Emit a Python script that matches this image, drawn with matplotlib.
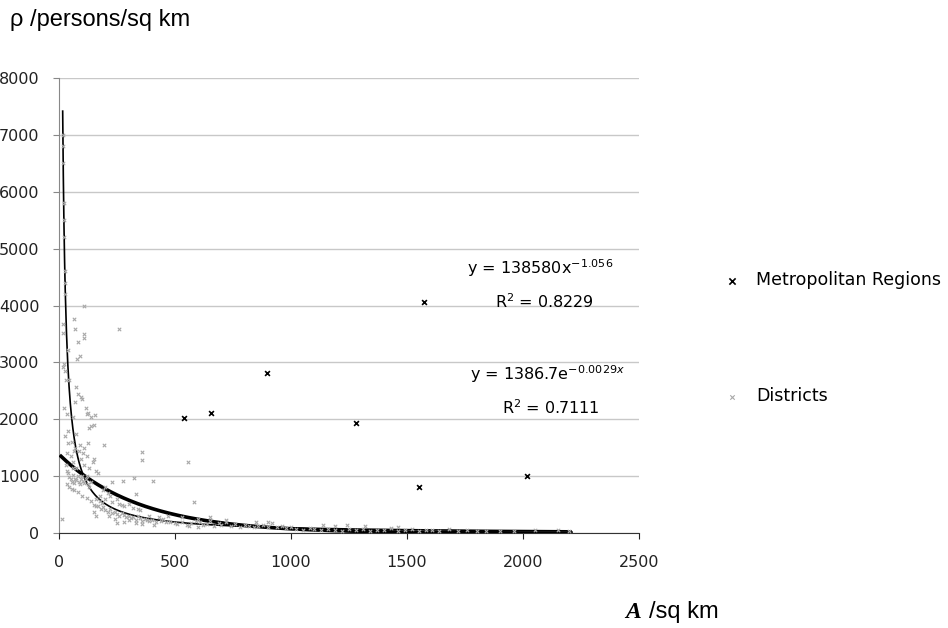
import numpy as np
import matplotlib
matplotlib.use('Agg')
from matplotlib import pyplot as plt

# Metropolitan regions (area sq km, density persons/sq km)
metro_area = [540, 655, 895, 1280, 1573, 1552, 2017]
metro_density = [2020, 2110, 2810, 1935, 4060, 810, 1000]

# Districts (area sq km, density persons/sq km)
district_area = [
    16, 17, 18, 20, 21, 22, 25, 26, 28,
    108, 65, 259, 17, 69, 108, 108, 17, 82, 39, 91, 78, 17, 20, 25, 30, 45, 72, 80, 95,
    70, 100, 115, 20, 35, 60, 120, 140, 150, 130, 40, 75, 25, 55, 90, 110, 194, 65, 120,
    35, 150, 60, 357, 357, 555, 405, 276, 323, 580, 160, 168, 126, 155, 138, 39, 125, 13,
    30, 35, 40, 45, 50, 55, 60, 65, 70, 75, 80, 85, 90, 95, 100, 105, 110, 115, 120, 125,
    130, 140, 45, 55, 65, 80, 35, 50, 70, 85, 95, 110, 105, 75, 60, 130, 145, 100, 120,
    140, 150, 160, 170, 160, 175,
    180, 190, 200, 210, 220, 230, 240, 250, 260, 270, 280, 290, 300, 310, 320, 330, 340,
    350, 360, 370, 380, 390, 400, 420, 440, 460, 480, 500, 200, 210, 220, 230, 250, 260,
    270, 280, 300, 320, 330, 340, 350, 250, 280, 300, 330, 360, 390, 410, 430, 450, 470,
    200, 230, 190, 175, 185, 215, 240, 150, 160,
    510, 530, 550, 570, 590, 600, 610, 620, 640, 650, 670, 690, 700, 720, 740, 760, 780,
    800, 820, 840, 860, 880, 900, 920, 940, 960, 980, 1000, 530, 560, 600, 650, 720, 850, 900,
    1020, 1050, 1080, 1100, 1130, 1160, 1190, 1220, 1250, 1280, 1310, 1340, 1370, 1400,
    1430, 1460, 1490, 1520, 1550, 1580, 1610, 1640, 1680, 1720, 1760, 1800, 1840, 1900,
    1960, 2050, 2150, 2200, 1140, 1190, 1240, 1320, 1460,
]
district_density = [
    7000, 6800, 6500, 5800, 5500, 5200, 4600, 4400, 4200,
    3990, 3760, 3585, 3670, 3585, 3500, 3430, 3510, 3360, 3220, 3110, 3060, 2920, 2980, 2850, 2700, 2690, 2560, 2450, 2400,
    2300, 2350, 2200, 2200, 2100, 2050, 2100, 2050, 1900, 1850, 1800, 1750, 1700, 1600, 1550, 1500, 1550, 1450, 1350,
    1400, 1300, 1250, 1420, 1280, 1250, 910, 910, 970, 540, 1100, 1050, 2110, 2070, 1880, 1580, 1580, 250,
    1200, 1100, 1050, 980, 950, 900, 1020, 880, 960, 930, 1000, 900, 870, 950, 1000, 920, 880, 950, 1000, 870,
    820, 900, 820, 780, 750, 720, 860, 1350, 1500, 1450, 1300, 1200, 1400, 1150, 1150, 1150, 1250, 650, 620,
    560, 500, 480, 470, 600, 560,
    420, 460, 400, 380, 420, 350, 380, 330, 300, 360, 320, 280, 300, 260, 280, 240, 300,
    260, 220, 250, 230, 210, 240, 200, 220, 190, 200, 180, 600, 700, 650, 550, 600, 520,
    500, 480, 520, 450, 680, 420, 400, 180, 200, 240, 180, 160, 300, 150, 280, 250, 300,
    820, 900, 750, 650, 530, 300, 250, 380, 300,
    160, 200, 150, 180, 220, 250, 190, 140, 160, 210, 120, 170, 140, 190, 130, 160, 110,
    150, 120, 100, 130, 150, 110, 170, 100, 120, 90, 110, 280, 120, 110, 280, 230, 190, 200,
    80, 60, 90, 70, 50, 80, 60, 40, 70, 50, 80, 40, 60, 50,
    90, 40, 60, 70, 40, 50, 60, 40, 80, 40, 50, 30, 40, 30,
    40, 50, 60, 40, 140, 130, 140, 120, 100,
]

# trendlines as given in the chart
pow_a, pow_b = 138580, -1.056
exp_a, exp_b = 1386.7, -0.0029
pow_range = [16, 2207]
exp_range = [9, 2207]

fig = plt.figure(figsize=(9.48, 6.28), dpi=100)
ax = fig.add_axes([0.0622, 0.151, 0.6118, 0.725])

ax.set_xlim(0, 2500)
ax.set_ylim(0, 8000)
ax.set_xticks(range(0, 2501, 500))
ax.set_yticks(range(0, 8001, 1000))
ax.yaxis.grid(True, color='#c8c8c8', linewidth=1.0)
ax.set_axisbelow(True)
for s in ['top', 'right']:
    ax.spines[s].set_visible(False)
ax.spines['left'].set_color('#888888')
ax.spines['bottom'].set_color('#333333')
ax.tick_params(axis='both', direction='out', length=4, labelsize=11.5,
               colors='#222222')
ax.tick_params(axis='y', color='#888888', pad=10)
ax.tick_params(axis='x', pad=12)

xp = np.linspace(pow_range[0], pow_range[1], 800)
ax.plot(xp, pow_a * xp ** pow_b, color='black', linewidth=1.2, zorder=3)
xe = np.linspace(exp_range[0], exp_range[1], 400)
ax.plot(xe, exp_a * np.exp(exp_b * xe), color='black', linewidth=2.6, zorder=3)

ax.scatter(district_area, district_density, marker='x', s=6, linewidths=0.8,
           color='#a8a8a8', zorder=4, label='Districts')
ax.scatter(metro_area, metro_density, marker='x', s=12, linewidths=1.2,
           color='black', zorder=5, label='Metropolitan Regions')

ax.text(1759, 4650, 'y = 138580x$^{-1.056}$', ha='left', va='center', fontsize=11.5)
ax.text(1879, 4060, 'R$^{2}$ = 0.8229', ha='left', va='center', fontsize=11.5)
ax.text(1772, 2790, 'y = 1386.7e$^{-0.0029x}$', ha='left', va='center', fontsize=11.5)
ax.text(1909, 2200, 'R$^{2}$ = 0.7111', ha='left', va='center', fontsize=11.5)

h, l = ax.get_legend_handles_labels()
leg = fig.legend(h[::-1], l[::-1], loc='upper left', bbox_to_anchor=(0.741, 0.593),
                 frameon=False, fontsize=12.5, labelspacing=5.65, handletextpad=0.6,
                 handlelength=1.6, markerscale=1.3)

fig.text(0.011, 0.968, 'ρ /persons/sq km', fontsize=17, family='Liberation Sans',
         ha='left', va='center')
fig.text(0.660, 0.025, 'A', fontsize=17, family='Liberation Serif',
         style='italic', weight='bold', ha='left', va='center')
fig.text(0.685, 0.025, '/sq km', fontsize=17, family='Liberation Sans',
         ha='left', va='center')

fig.savefig('out.png', dpi=100)
